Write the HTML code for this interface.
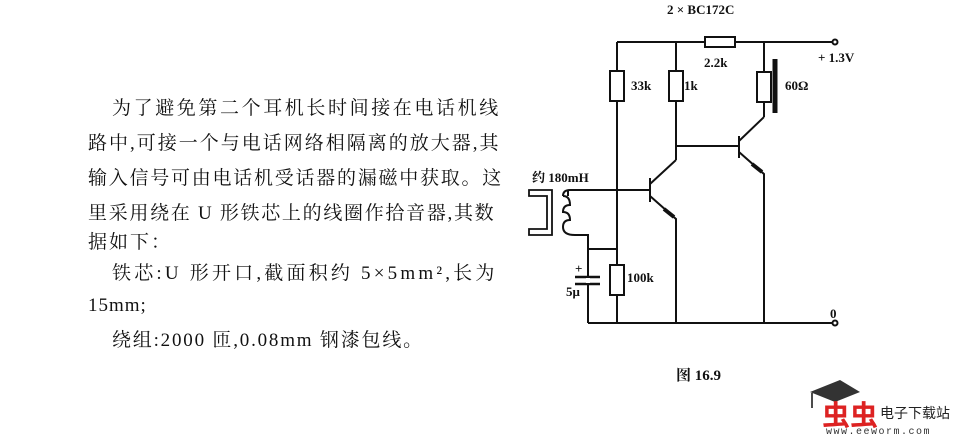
<!DOCTYPE html>
<html><head><meta charset="utf-8"><style>
body{margin:0;background:#fff;width:960px;height:436px;overflow:hidden;position:relative;font-family:"Liberation Serif","Noto Serif CJK SC",serif;color:#111}
.t{position:absolute;font-size:19px;line-height:22px;white-space:nowrap;font-family:"Liberation Serif","Noto Serif CJK SC",serif}
svg{position:absolute;left:0;top:0}
</style></head><body>
<div class="t" style="left:112px;top:98px;letter-spacing:2.6px">为了避免第二个耳机长时间接在电话机线</div>
<div class="t" style="left:88px;top:133px;letter-spacing:2.0px">路中,可接一个与电话网络相隔离的放大器,其</div>
<div class="t" style="left:88px;top:168px;letter-spacing:1.75px">输入信号可由电话机受话器的漏磁中获取。这</div>
<div class="t" style="left:88px;top:203px;letter-spacing:1.7px">里采用绕在 U 形铁芯上的线圈作拾音器,其数</div>
<div class="t" style="left:88px;top:232px;letter-spacing:2px">据如下：</div>
<div class="t" style="left:112px;top:263px;letter-spacing:3.2px">铁芯:U 形开口,截面积约 5×5mm²,长为</div>
<div class="t" style="left:88px;top:295px;letter-spacing:1px">15mm;</div>
<div class="t" style="left:112px;top:330px;letter-spacing:1.8px">绕组:2000 匝,0.08mm 钢漆包线。</div>
<svg width="960" height="436" viewBox="0 0 960 436" fill="none" stroke="#111" stroke-width="2">
<g font-family="Liberation Serif, Noto Serif CJK SC, serif" font-size="13" fill="#111" stroke="none" font-weight="bold">
<text x="667" y="14">2 × BC172C</text>
<text x="704" y="67">2.2k</text>
<text x="818" y="62">+ 1.3V</text>
<text x="631" y="90">33k</text>
<text x="684" y="90">1k</text>
<text x="785" y="90">60Ω</text>
<text x="532" y="182">约 180mH</text>
<text x="627" y="282">100k</text>
<text x="575" y="273">+</text>
<text x="566" y="296">5μ</text>
<text x="830" y="318">0</text>
<text x="676" y="380" font-size="15">图 16.9</text>
</g>
<path d="M617 42H705M735 42H835"/>
<rect x="705" y="37" width="30" height="10"/>
<circle cx="835" cy="42" r="2.5" fill="#fff"/>
<path d="M617 42V71M617 101V323"/>
<rect x="610" y="71" width="14" height="30"/>
<path d="M676 42V71M676 101V160"/>
<rect x="669" y="71" width="14" height="30"/>
<path d="M764 42V72M764 102V117"/>
<rect x="757" y="72" width="14" height="30"/>
<path d="M775 59V113" stroke-width="5"/>
<path d="M676 146H739M739 136V158M739 141L764 117M739 152L764 174V323"/>
<path d="M752 164L762 172" stroke-width="4"/>
<path d="M570 190H650M650 178V202M650 184L676 160M650 196L676 219V323"/>
<path d="M664 209L674 217" stroke-width="4"/>
<path d="M588 323H835"/>
<circle cx="835" cy="323" r="2.5" fill="#fff"/>
<rect x="610" y="265" width="14" height="30" fill="#fff"/>
<path d="M570 190Q563 190 563 196M563 196Q570 196 570 205Q563 205 563 212Q570 212 570 220Q563 220 563 227Q563 235 575 235H588V323M588 249H617"/>
<path d="M568 190V196" />
<path d="M575 277H600M575 284H600" stroke-width="2.5"/>
<rect x="586" y="278" width="4" height="5" fill="#fff" stroke="none"/>
<path d="M529 190H552V235H529V229H547V196H529Z" stroke-width="1.8"/>
<path d="M810 392L840 380L860 392L835 402Z" fill="#333" stroke="none"/>
<path d="M812 393V408" stroke-width="1.5"/>
<g stroke="none">
<text x="822" y="425" font-family="Liberation Sans, Noto Sans CJK SC, sans-serif" font-size="28" font-weight="bold" fill="#d22">虫虫</text>
<text x="880" y="418" font-family="Liberation Sans, Noto Sans CJK SC, sans-serif" font-size="14" fill="#222">电子下载站</text>
<text x="826" y="434" font-family="Liberation Mono, monospace" font-size="10" fill="#333" letter-spacing="1.5">www.eeworm.com</text>
</g>
</svg>
</body></html>
